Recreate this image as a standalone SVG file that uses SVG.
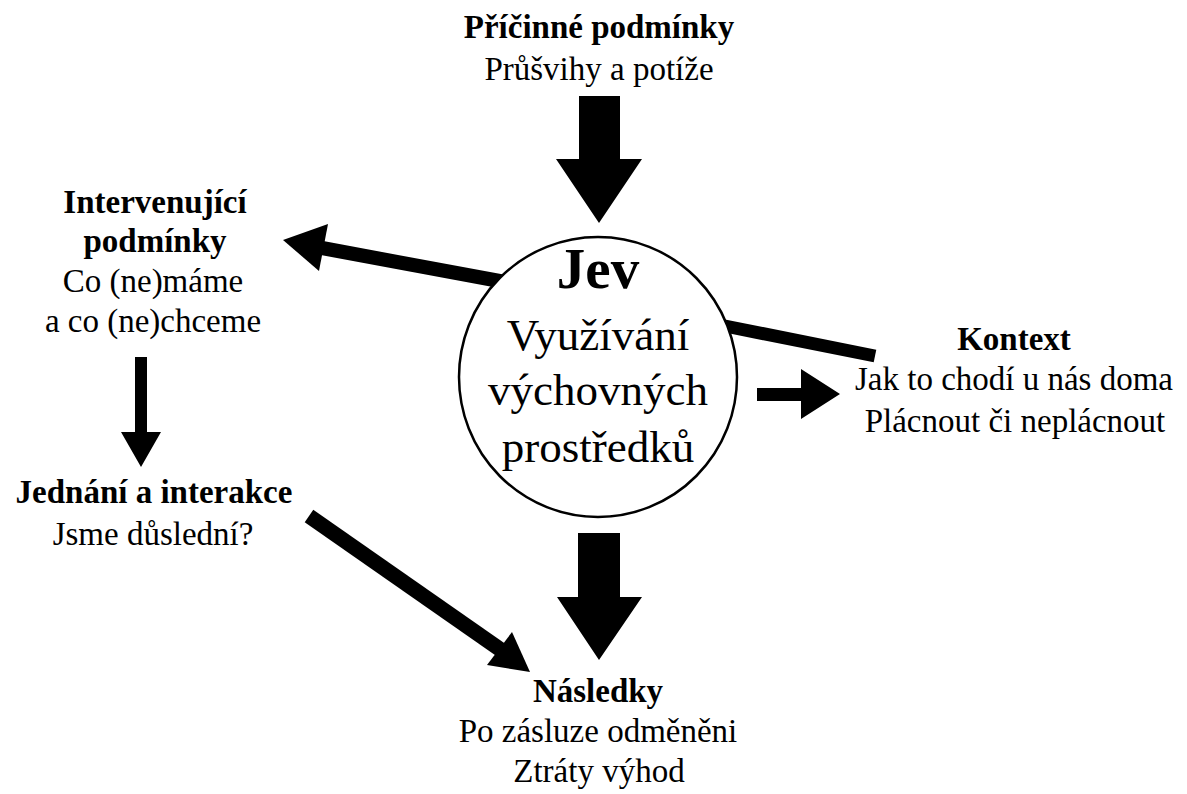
<svg xmlns="http://www.w3.org/2000/svg" width="1187" height="794" viewBox="0 0 1187 794">
<style>
text{font-family:"Liberation Serif","Times New Roman",serif;fill:#000;text-anchor:middle;font-size:33px}
.b{font-weight:bold}
.c{font-size:45px}
.j{font-size:57px;font-weight:bold}
.arr{fill:#000;stroke:none}
.shaft{stroke:#000;fill:none;stroke-linecap:butt}
</style>
<rect width="1187" height="794" fill="#fff"/>
<g id="connectors">
<polygon class="arr" points="579,96 620,96 620,159 642,159 599,223 556,159 579,159"/>
<line class="shaft" x1="505" y1="282" x2="322" y2="248" stroke-width="14"/>
<polygon class="arr" points="283,240 328,224 319,271"/>
<line class="shaft" x1="720" y1="325" x2="875" y2="356" stroke-width="13"/>
<polygon class="arr" points="757,388 801,388 801,369 840,394 801,419 801,401 757,401"/>
<polygon class="arr" points="135,357 147,357 147,432 161,432 141,467 121,432 135,432"/>
<line class="shaft" x1="309" y1="516" x2="501" y2="650" stroke-width="15"/>
<polygon class="arr" points="530,672 512,632 487,665"/>
<polygon class="arr" points="578,533 620,533 620,597 642,597 599,660 557,597 578,597"/>
</g>
<g id="pricinne">
<text class="b" x="599" y="38">Příčinné podmínky</text>
<text x="599" y="80">Průšvihy a potíže</text>
</g>
<g id="jev">
<ellipse cx="598" cy="377" rx="139" ry="140" fill="#fff" stroke="#000" stroke-width="2.5"/>
<text class="j" x="598" y="288">Jev</text>
<text class="c" x="598" y="350">Využívání</text>
<text class="c" x="598" y="405">výchovných</text>
<text class="c" x="598" y="462">prostředků</text>
</g>
<g id="intervenujici">
<text class="b" x="155" y="213">Intervenující</text>
<text class="b" x="155" y="252">podmínky</text>
<text x="153" y="292">Co (ne)máme</text>
<text x="153" y="332">a co (ne)chceme</text>
</g>
<g id="jednani">
<text class="b" x="154" y="503">Jednání a interakce</text>
<text x="153" y="545">Jsme důslední?</text>
</g>
<g id="kontext">
<text class="b" x="1014" y="350">Kontext</text>
<text x="1014" y="390">Jak to chodí u nás doma</text>
<text x="1015" y="432">Plácnout či neplácnout</text>
</g>
<g id="nasledky">
<text class="b" x="598" y="702">Následky</text>
<text x="598" y="742">Po zásluze odměněni</text>
<text x="599" y="782">Ztráty výhod</text>
</g>
</svg>
